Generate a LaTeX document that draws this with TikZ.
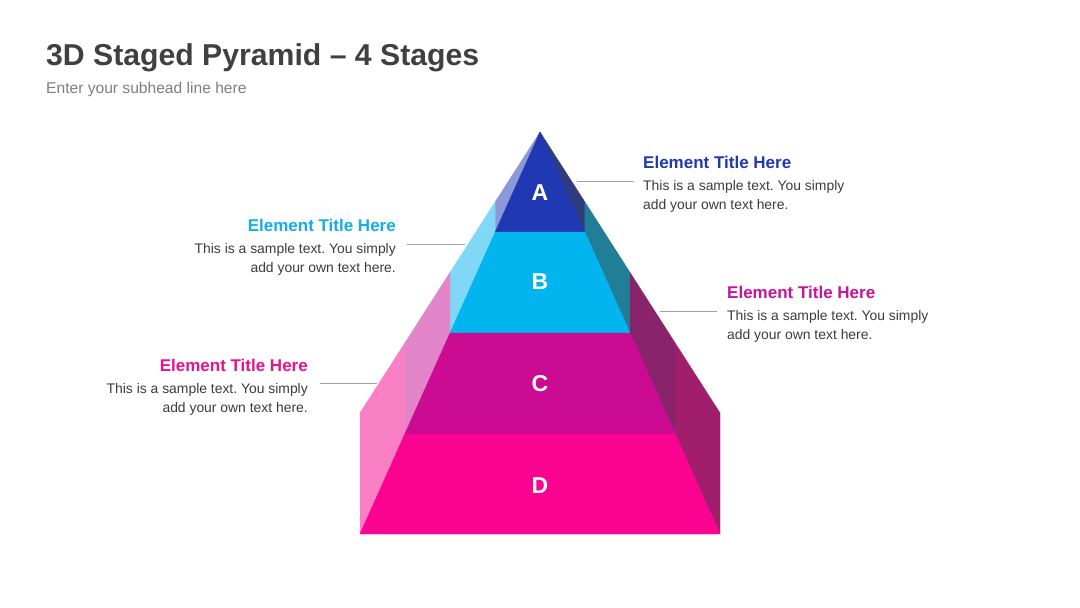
\documentclass[tikz,border=0pt]{standalone}
\usepackage{fontspec}
\setmainfont{Liberation Sans}
\usepackage{xcolor}
\usetikzlibrary{positioning}
\frenchspacing
\definecolor{HeadGray}{RGB}{64,64,64}
\definecolor{SubGray}{RGB}{127,127,127}
\definecolor{BodyGray}{RGB}{60,60,60}
\definecolor{LineGray}{RGB}{160,160,160}
\definecolor{StageA}{RGB}{32,57,178}
\definecolor{StageB}{RGB}{2,181,239}
\definecolor{StageC}{RGB}{203,11,146}
\definecolor{StageD}{RGB}{250,3,144}
\definecolor{SideAL}{RGB}{140,152,216}
\definecolor{SideAR}{RGB}{46,59,126}
\definecolor{SideBL}{RGB}{128,216,246}
\definecolor{SideBR}{RGB}{33,126,151}
\definecolor{SideCL}{RGB}{226,134,201}
\definecolor{SideCR}{RGB}{136,35,108}
\definecolor{SideDL}{RGB}{250,128,198}
\definecolor{SideDR}{RGB}{160,30,107}
\definecolor{TitleB}{RGB}{18,174,230}
\definecolor{TitleC}{RGB}{196,22,154}
\definecolor{TitleD}{RGB}{231,19,140}

\begin{document}
\begin{tikzpicture}[x=1pt, y=-1pt,
    face/.style={fill=#1, draw=#1, line width=0.4pt, line join=round},
    stagelbl/.style={font=\fontsize{23}{23}\selectfont\bfseries,
                     text=white, inner sep=0},
    elttitle/.style={font=\fontsize{17}{20}\selectfont\bfseries, inner sep=0},
    eltbody/.style={font=\fontsize{13.9}{18.5}\selectfont,
                    text=BodyGray, inner sep=0},
    conn/.style={draw=LineGray, line width=1pt}
  ]
  \useasboundingbox (0,0) rectangle (1080,608);
  \fill[white] (0,0) rectangle (1080,608);

  % heading
  \node[anchor=base west, inner sep=0, text=HeadGray,
        font=\fontsize{30.2}{34}\selectfont\bfseries] (head) at (46,65)
        {3D Staged Pyramid – 4 Stages};
  \node[anchor=base west, inner sep=0, text=SubGray,
        font=\fontsize{15.6}{18}\selectfont] (subhead) at (46,93)
        {Enter your subhead line here};

  % pyramid corners
  \coordinate (apex) at (540,132);
  \coordinate (l1) at (495.2,232);   \coordinate (r1) at (584.8,232);
  \coordinate (l2) at (450,333);     \coordinate (r2) at (630,333);
  \coordinate (l3) at (404.8,434);   \coordinate (r3) at (675.2,434);
  \coordinate (l4) at (360,534);     \coordinate (r4) at (720,534);
  \coordinate (ol1) at (495.2,201.9); \coordinate (or1) at (584.8,201.9);
  \coordinate (ol2) at (450,272.5);   \coordinate (or2) at (630,272.5);
  \coordinate (ol3) at (404.8,343.1); \coordinate (or3) at (675.2,343.1);
  \coordinate (ol4) at (360,413);     \coordinate (or4) at (720,413);

  % side faces
  \filldraw[face=SideAL] (apex) -- (ol1) -- (l1) -- cycle;
  \filldraw[face=SideAR] (apex) -- (or1) -- (r1) -- cycle;
  \filldraw[face=SideBL] (ol1) -- (ol2) -- (l2) -- (l1) -- cycle;
  \filldraw[face=SideBR] (or1) -- (or2) -- (r2) -- (r1) -- cycle;
  \filldraw[face=SideCL] (ol2) -- (ol3) -- (l3) -- (l2) -- cycle;
  \filldraw[face=SideCR] (or2) -- (or3) -- (r3) -- (r2) -- cycle;
  \filldraw[face=SideDL] (ol3) -- (ol4) -- (l4) -- (l3) -- cycle;
  \filldraw[face=SideDR] (or3) -- (or4) -- (r4) -- (r3) -- cycle;

  % front faces
  \filldraw[face=StageA] (apex) -- (l1) -- (r1) -- cycle;
  \filldraw[face=StageB] (l1) -- (l2) -- (r2) -- (r1) -- cycle;
  \filldraw[face=StageC] (l2) -- (l3) -- (r3) -- (r2) -- cycle;
  \filldraw[face=StageD] (l3) -- (l4) -- (r4) -- (r3) -- cycle;

  \node[stagelbl] (sa) at (540,193) {A};
  \node[stagelbl] (sb) at (540,282) {B};
  \node[stagelbl] (sc) at (540,384) {C};
  \node[stagelbl] (sd) at (540,486) {D};

  % element texts (body anchored on its last line)
  \node[elttitle, text=StageA, anchor=base west] (ta) at (643,168)
        {Element Title Here};
  \node[eltbody, anchor=base west, align=left] (ba) at (643,209)
        {This is a sample text. You simply\\add your own text here.};
  \node[elttitle, text=TitleB, anchor=base east] (tb) at (396,231)
        {Element Title Here};
  \node[eltbody, anchor=base east, align=right] (bb) at (396,272)
        {This is a sample text. You simply\\add your own text here.};
  \node[elttitle, text=TitleC, anchor=base west] (tc) at (727,298)
        {Element Title Here};
  \node[eltbody, anchor=base west, align=left] (bc) at (727,339)
        {This is a sample text. You simply\\add your own text here.};
  \node[elttitle, text=TitleD, anchor=base east] (td) at (308,371)
        {Element Title Here};
  \node[eltbody, anchor=base east, align=right] (bd) at (308,412)
        {This is a sample text. You simply\\add your own text here.};

  % leader lines
  \coordinate (ka1) at (577,181);   \coordinate (ka2) at (634,181);
  \coordinate (kb1) at (407,244);   \coordinate (kb2) at (465,244);
  \coordinate (kc1) at (660,311.5); \coordinate (kc2) at (717,311.5);
  \coordinate (kd1) at (320,383);   \coordinate (kd2) at (377,383);
  \draw[conn] (ka1) -- (ka2);
  \draw[conn] (kb1) -- (kb2);
  \draw[conn] (kc1) -- (kc2);
  \draw[conn] (kd1) -- (kd2);
\end{tikzpicture}
\end{document}
